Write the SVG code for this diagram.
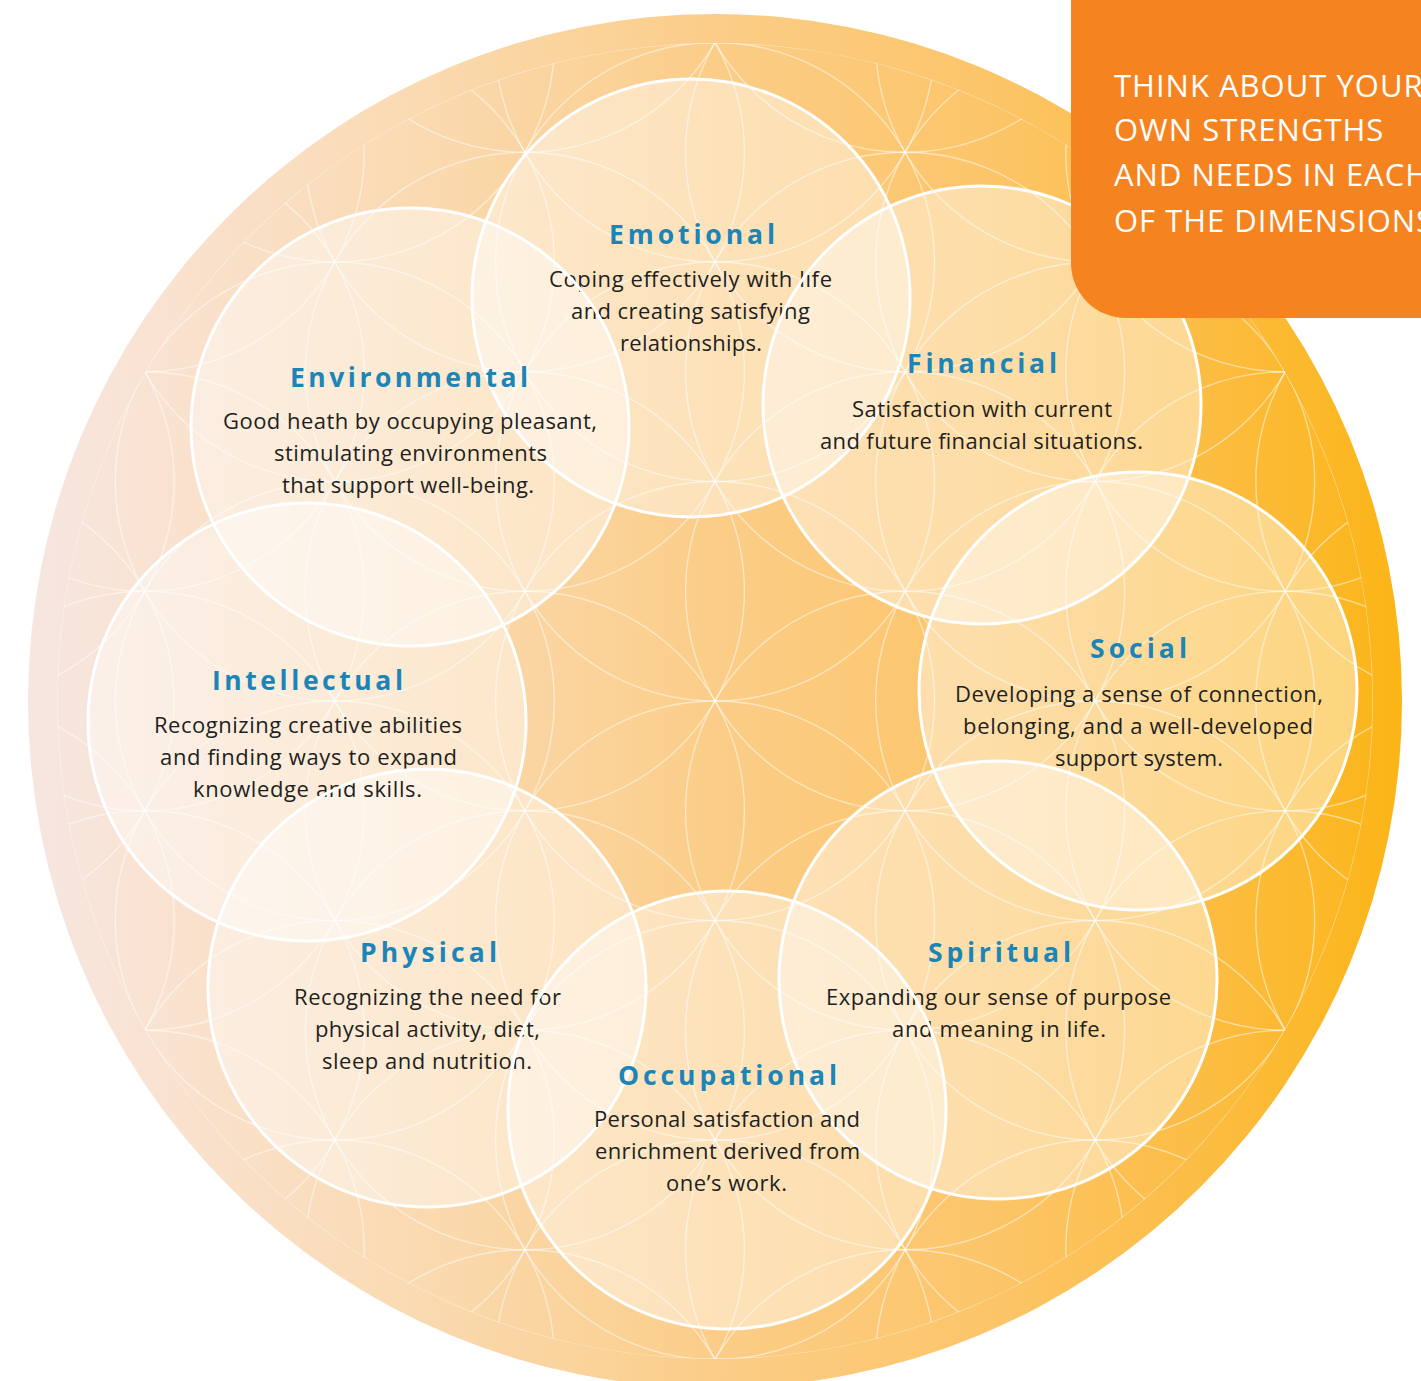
<svg xmlns="http://www.w3.org/2000/svg" width="1421" height="1381" viewBox="0 0 1421 1381">
<defs>
<linearGradient id="bg" gradientUnits="userSpaceOnUse" x1="28" y1="0" x2="1402" y2="0">
<stop offset="0" stop-color="#f6e6e1"/>
<stop offset="0.1" stop-color="#f9e2d0"/>
<stop offset="0.3" stop-color="#fad9ae"/>
<stop offset="0.5" stop-color="#fbcd88"/>
<stop offset="0.7" stop-color="#fcc569"/>
<stop offset="0.85" stop-color="#fcbd45"/>
<stop offset="1" stop-color="#fbb516"/>
</linearGradient>
<clipPath id="inner"><circle cx="715" cy="701" r="658"/></clipPath>
<style>
.lat{fill:none;stroke:#ffffff;stroke-opacity:0.5;stroke-width:1.4}
.fillc{fill:#ffffff;fill-opacity:0.42;stroke:none}
.ring{fill:none;stroke:#ffffff;stroke-width:3}
.title{font-family:"Open Sans","Noto Sans","DejaVu Sans",sans-serif;font-weight:700;font-size:26.5px;fill:#1b85b8;text-anchor:middle}
.body{font-family:"Open Sans","Noto Sans","DejaVu Sans",sans-serif;font-size:22px;fill:#231f20;text-anchor:middle}
.box{font-family:"Open Sans","Noto Sans","DejaVu Sans",sans-serif;font-size:31px;fill:#ffffff;letter-spacing:1px}
</style>
</defs>
<rect x="0" y="0" width="1421" height="1381" fill="#ffffff"/>
<circle id="disk" cx="715" cy="701" r="687" fill="url(#bg)"/>

<g id="circle-fills">
<circle class="fillc" cx="691" cy="298" r="219"/>
<circle class="fillc" cx="410" cy="427" r="219"/>
<circle class="fillc" cx="982" cy="405" r="219"/>
<circle class="fillc" cx="1138" cy="691" r="219"/>
<circle class="fillc" cx="307" cy="722" r="219"/>
<circle class="fillc" cx="427" cy="988" r="219"/>
<circle class="fillc" cx="998" cy="980" r="219"/>
<circle class="fillc" cx="727" cy="1110" r="219"/>
</g>

<g id="pattern" clip-path="url(#inner)">
<circle class="lat" cx="715" cy="701" r="658"/>
<circle class="lat" cx="-45.36" cy="481.5" r="219.5"/>
<circle class="lat" cx="-45.36" cy="701" r="219.5"/>
<circle class="lat" cx="-45.36" cy="920.5" r="219.5"/>
<circle class="lat" cx="144.73" cy="152.25" r="219.5"/>
<circle class="lat" cx="144.73" cy="371.75" r="219.5"/>
<circle class="lat" cx="144.73" cy="591.25" r="219.5"/>
<circle class="lat" cx="144.73" cy="810.75" r="219.5"/>
<circle class="lat" cx="144.73" cy="1030.25" r="219.5"/>
<circle class="lat" cx="144.73" cy="1249.75" r="219.5"/>
<circle class="lat" cx="334.82" cy="42.5" r="219.5"/>
<circle class="lat" cx="334.82" cy="262" r="219.5"/>
<circle class="lat" cx="334.82" cy="481.5" r="219.5"/>
<circle class="lat" cx="334.82" cy="701" r="219.5"/>
<circle class="lat" cx="334.82" cy="920.5" r="219.5"/>
<circle class="lat" cx="334.82" cy="1140" r="219.5"/>
<circle class="lat" cx="334.82" cy="1359.5" r="219.5"/>
<circle class="lat" cx="524.91" cy="-67.25" r="219.5"/>
<circle class="lat" cx="524.91" cy="152.25" r="219.5"/>
<circle class="lat" cx="524.91" cy="371.75" r="219.5"/>
<circle class="lat" cx="524.91" cy="591.25" r="219.5"/>
<circle class="lat" cx="524.91" cy="810.75" r="219.5"/>
<circle class="lat" cx="524.91" cy="1030.25" r="219.5"/>
<circle class="lat" cx="524.91" cy="1249.75" r="219.5"/>
<circle class="lat" cx="524.91" cy="1469.25" r="219.5"/>
<circle class="lat" cx="715" cy="42.5" r="219.5"/>
<circle class="lat" cx="715" cy="262" r="219.5"/>
<circle class="lat" cx="715" cy="481.5" r="219.5"/>
<circle class="lat" cx="715" cy="701" r="219.5"/>
<circle class="lat" cx="715" cy="920.5" r="219.5"/>
<circle class="lat" cx="715" cy="1140" r="219.5"/>
<circle class="lat" cx="715" cy="1359.5" r="219.5"/>
<circle class="lat" cx="905.09" cy="-67.25" r="219.5"/>
<circle class="lat" cx="905.09" cy="152.25" r="219.5"/>
<circle class="lat" cx="905.09" cy="371.75" r="219.5"/>
<circle class="lat" cx="905.09" cy="591.25" r="219.5"/>
<circle class="lat" cx="905.09" cy="810.75" r="219.5"/>
<circle class="lat" cx="905.09" cy="1030.25" r="219.5"/>
<circle class="lat" cx="905.09" cy="1249.75" r="219.5"/>
<circle class="lat" cx="905.09" cy="1469.25" r="219.5"/>
<circle class="lat" cx="1095.18" cy="42.5" r="219.5"/>
<circle class="lat" cx="1095.18" cy="262" r="219.5"/>
<circle class="lat" cx="1095.18" cy="481.5" r="219.5"/>
<circle class="lat" cx="1095.18" cy="701" r="219.5"/>
<circle class="lat" cx="1095.18" cy="920.5" r="219.5"/>
<circle class="lat" cx="1095.18" cy="1140" r="219.5"/>
<circle class="lat" cx="1095.18" cy="1359.5" r="219.5"/>
<circle class="lat" cx="1285.27" cy="152.25" r="219.5"/>
<circle class="lat" cx="1285.27" cy="371.75" r="219.5"/>
<circle class="lat" cx="1285.27" cy="591.25" r="219.5"/>
<circle class="lat" cx="1285.27" cy="810.75" r="219.5"/>
<circle class="lat" cx="1285.27" cy="1030.25" r="219.5"/>
<circle class="lat" cx="1285.27" cy="1249.75" r="219.5"/>
<circle class="lat" cx="1475.36" cy="481.5" r="219.5"/>
<circle class="lat" cx="1475.36" cy="701" r="219.5"/>
<circle class="lat" cx="1475.36" cy="920.5" r="219.5"/>
</g>

<g id="emotional">
<circle class="ring" cx="691" cy="298" r="219"/>
<text class="title" x="692" y="244" textLength="166">Emotional</text>
<text class="body" x="690.5" y="287" textLength="283">Coping effectively with life</text>
<text class="body" x="690.5" y="319" textLength="239">and creating satisfying</text>
<text class="body" x="691" y="351" textLength="142">relationships.</text>
</g>

<g id="environmental">
<circle class="ring" cx="410" cy="427" r="219"/>
<text class="title" x="409" y="387" textLength="238">Environmental</text>
<text class="body" x="410" y="429" textLength="374">Good heath by occupying pleasant,</text>
<text class="body" x="410.5" y="461" textLength="273">stimulating environments</text>
<text class="body" x="408" y="493" textLength="252">that support well-being.</text>
</g>

<g id="financial">
<circle class="ring" cx="982" cy="405" r="219"/>
<text class="title" x="982" y="373" textLength="150">Financial</text>
<text class="body" x="982" y="417" textLength="260">Satisfaction with current</text>
<text class="body" x="981.5" y="449" textLength="323">and future financial situations.</text>
</g>

<g id="social">
<circle class="ring" cx="1138" cy="691" r="219"/>
<text class="title" x="1138.5" y="658" textLength="97">Social</text>
<text class="body" x="1139" y="702" textLength="368">Developing a sense of connection,</text>
<text class="body" x="1138" y="734" textLength="350">belonging, and a well-developed</text>
<text class="body" x="1139" y="766" textLength="168">support system.</text>
</g>

<g id="intellectual">
<circle class="ring" cx="307" cy="722" r="219"/>
<text class="title" x="307.5" y="690" textLength="191">Intellectual</text>
<text class="body" x="308" y="733" textLength="308">Recognizing creative abilities</text>
<text class="body" x="308.5" y="765" textLength="297">and finding ways to expand</text>
<text class="body" x="307.5" y="797" textLength="229">knowledge and skills.</text>
</g>

<g id="physical">
<circle class="ring" cx="427" cy="988" r="219"/>
<text class="title" x="428.5" y="962" textLength="137">Physical</text>
<text class="body" x="427.5" y="1005" textLength="267">Recognizing the need for</text>
<text class="body" x="427.5" y="1037" textLength="225">physical activity, diet,</text>
<text class="body" x="427" y="1069" textLength="210">sleep and nutrition.</text>
</g>

<g id="spiritual">
<circle class="ring" cx="998" cy="980" r="219"/>
<text class="title" x="999.5" y="962" textLength="143">Spiritual</text>
<text class="body" x="998.5" y="1005" textLength="345">Expanding our sense of purpose</text>
<text class="body" x="999" y="1037" textLength="214">and meaning in life.</text>
</g>

<g id="occupational">
<circle class="ring" cx="727" cy="1110" r="219"/>
<text class="title" x="727.5" y="1085" textLength="219">Occupational</text>
<text class="body" x="727" y="1127" textLength="266">Personal satisfaction and</text>
<text class="body" x="727.5" y="1159" textLength="265">enrichment derived from</text>
<text class="body" x="726.5" y="1191" textLength="121">one’s work.</text>
</g>

<g id="callout">
<rect x="1071" y="-60" width="420" height="378" rx="55" ry="55" fill="#f58420"/>
<text class="box" x="1114" y="97">THINK ABOUT YOUR</text>
<text class="box" x="1114" y="141">OWN STRENGTHS</text>
<text class="box" x="1114" y="186">AND NEEDS IN EACH</text>
<text class="box" x="1114" y="232">OF THE DIMENSIONS</text>
</g>
</svg>
